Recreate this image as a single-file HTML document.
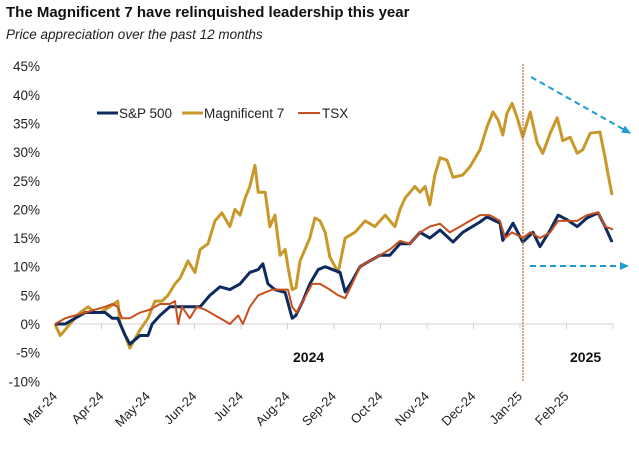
<!DOCTYPE html>
<html><head><meta charset="utf-8"><style>
body{margin:0;background:#fff;width:639px;height:448px;overflow:hidden;font-family:"Liberation Sans",sans-serif}
</style></head><body>
<svg id="chart" width="639" height="448" viewBox="0 0 639 448" xmlns="http://www.w3.org/2000/svg">
<text x="6" y="17" font-size="15" font-weight="bold" fill="#111">The Magnificent 7 have relinquished leadership this year</text>
<text x="6" y="39" font-size="13.5" font-style="italic" fill="#222">Price appreciation over the past 12 months</text>
<g id="yaxis"></g>
<g id="xaxis"></g>
<g id="series"></g>
<g font-size="13.5" fill="#222">
<line x1="97" y1="113" x2="118" y2="113" stroke="#0d2b5f" stroke-width="3"/>
<text x="119" y="118">S&amp;P 500</text>
<line x1="182" y1="113" x2="203" y2="113" stroke="#c9982a" stroke-width="3"/>
<text x="204" y="118">Magnificent 7</text>
<line x1="298" y1="113" x2="320" y2="113" stroke="#c8501e" stroke-width="2"/>
<text x="322" y="118">TSX</text>
</g>
<text x="293" y="362" font-size="14" font-weight="bold" fill="#111">2024</text>
<text x="570" y="362" font-size="14" font-weight="bold" fill="#111">2025</text>
<line x1="523" y1="64" x2="523" y2="382" stroke="#b5703f" stroke-width="1.2" stroke-dasharray="2,1"/>
<defs><marker id="ah" markerUnits="userSpaceOnUse" markerWidth="10" markerHeight="10" refX="8" refY="4" orient="auto"><path d="M0,0 L9,4 L0,8 Z" fill="#1e9bd0"/></marker></defs>
<line x1="531" y1="77" x2="630" y2="133" stroke="#1e9bd0" stroke-width="2" stroke-dasharray="6,4" marker-end="url(#ah)"/>
<line x1="530" y1="266" x2="628" y2="266" stroke="#1e9bd0" stroke-width="2" stroke-dasharray="6,4" marker-end="url(#ah)"/>
</svg>
<script>
const yTicks=[45,40,35,30,25,20,15,10,5,0,-5,-10];
const monthLabels=["Mar-24","Apr-24","May-24","Jun-24","Jul-24","Aug-24","Sep-24","Oct-24","Nov-24","Dec-24","Jan-25","Feb-25"];
const magMonths=[0,.11,.22,.32,.54,.71,.86,.97,1.18,1.35,1.40,1.51,1.61,1.83,2.0,2.15,2.30,2.43,2.58,2.69,2.86,3.01,3.12,3.29,3.44,3.59,3.76,3.87,3.98,4.09,4.19,4.30,4.37,4.52,4.62,4.73,4.84,4.95,5.01,5.10,5.18,5.27,5.48,5.59,5.70,5.81,5.91,6.09,6.24,6.45,6.67,6.88,7.10,7.31,7.42,7.53,7.74,7.85,7.96,8.06,8.17,8.28,8.43,8.56,8.77,8.92,9.14,9.29,9.42,9.53,9.63,9.72,9.83,9.94,10.06,10.22,10.37,10.49,10.65,10.80,10.92,11.08,11.23,11.35,11.51,11.72,11.83,11.89,11.98];
const magValues=[0,-2,-1,0,2,3,2,2,3,4,0,-2,-4.2,-1,1,4,4,5,7,8,11,9,13,14,18,19.4,17,20,19,22,24,27.7,23,23,17,19,12,13,10,6,6.3,11,15,18.5,18,16,11.7,9,15,16,18,17,19,17,20,22,24,23,24,20.8,26,29,28.6,25.6,26,27.4,30.4,34.4,37,35.6,33,36.8,38.5,36,32.6,37,31.6,29.8,33.3,36,32,32.6,29.8,30.4,33.3,33.5,29,26.3,22.5];
const spMonths=[0,.22,.43,.65,.86,1.08,1.23,1.35,1.51,1.61,1.83,2.0,2.09,2.26,2.47,2.69,2.90,3.12,3.33,3.55,3.76,3.98,4.19,4.37,4.47,4.58,4.73,4.95,5.10,5.18,5.33,5.48,5.66,5.81,6.13,6.24,6.39,6.56,6.77,6.99,7.20,7.42,7.63,7.85,8.06,8.28,8.56,8.77,9.14,9.29,9.57,9.63,9.85,10.06,10.28,10.43,10.65,10.82,11.01,11.23,11.44,11.68,11.83,11.98];
const spValues=[0,0,1,2,2,2,1,1,-2,-3.5,-2,-2,0,1.5,3,3,3,3,5,6.5,6,7,9,9.5,10.5,7,6,5.5,1,1.5,4,7,9.5,10,9,5.6,7.5,10,11,12,12,14,14,16,15,16.4,14.3,16,17.8,18.7,17.6,14.6,17.6,14.3,16,13.5,16.4,19,18.2,17,18.5,19.4,17,14.3];
const tsxMonths=[0,.22,.43,.65,.86,1.08,1.23,1.35,1.44,1.61,1.83,2.04,2.26,2.47,2.58,2.65,2.73,2.90,3.05,3.23,3.44,3.66,3.76,3.94,4.04,4.19,4.37,4.52,4.67,4.84,5.01,5.10,5.20,5.33,5.53,5.70,5.91,6.09,6.24,6.39,6.56,6.77,6.99,7.20,7.42,7.63,7.85,8.06,8.28,8.49,8.71,8.92,9.14,9.35,9.57,9.68,9.83,10.06,10.22,10.43,10.65,10.82,11.01,11.23,11.44,11.68,11.83,12.0];
const tsxValues=[0,1,1.5,2,2.5,3,3.5,3,1,1,2,2.5,3.5,3.5,4,0,3,1,3,2.5,1.5,0.5,0,1.5,0,3,5,5.5,6,6,6,3,2,4,7,7,6,5,4.5,7,10,11,12,13,14.5,14,16,17,17.5,16,17,18,19,19,18,15,16,15,16,15,16,18,18,18,19,19.5,17,16.5];
const NS="http://www.w3.org/2000/svg";
const X0=55,XM=46.5,Y0=324,YP=5.73;
const xs=m=>X0+m*XM, ys=v=>Y0-v*YP;
const ya=document.getElementById('yaxis'),xa=document.getElementById('xaxis'),sg=document.getElementById('series');
yTicks.forEach(t=>{const e=document.createElementNS(NS,'text');


e.setAttribute('x',40);e.setAttribute('y',ys(t)+5);e.setAttribute('text-anchor','end');e.setAttribute('font-size','13.5');e.setAttribute('fill','#222');e.textContent=t+'%';ya.appendChild(e);});
const ax=document.createElementNS(NS,'line');


ax.setAttribute('x1',X0);ax.setAttribute('x2',xs(12));ax.setAttribute('y1',Y0);ax.setAttribute('y2',Y0);ax.setAttribute('stroke','#d0d0d0');xa.appendChild(ax);
for(let i=0;i<=monthLabels.length;i++){const t=document.createElementNS(NS,'line');


t.setAttribute('x1',xs(i));t.setAttribute('x2',xs(i));t.setAttribute('y1',Y0);t.setAttribute('y2',Y0+5);t.setAttribute('stroke','#d0d0d0');xa.appendChild(t);}
monthLabels.forEach((l,i)=>{const e=document.createElementNS(NS,'text');


const x=xs(i)+3,y=397;e.setAttribute('x',x);e.setAttribute('y',y);e.setAttribute('text-anchor','end');e.setAttribute('font-size','13');e.setAttribute('fill','#222');e.setAttribute('transform','rotate(-45 '+x+' '+y+')');e.textContent=l;xa.appendChild(e);});
function draw(ms,vs,color,w,name){const p=document.createElementNS(NS,'polyline');


p.setAttribute('points',ms.map((m,i)=>xs(m)+','+ys(vs[i])).join(' '));p.setAttribute('fill','none');p.setAttribute('stroke',color);p.setAttribute('stroke-width',w);p.setAttribute('stroke-linejoin','round');sg.appendChild(p);}
draw(magMonths,magValues,'#c9982a',3,'mag7-line');
draw(spMonths,spValues,'#0d2b5f',3,'sp500-line');
draw(tsxMonths,tsxValues,'#c8501e',2,'tsx-line');
</script>
</body></html>
